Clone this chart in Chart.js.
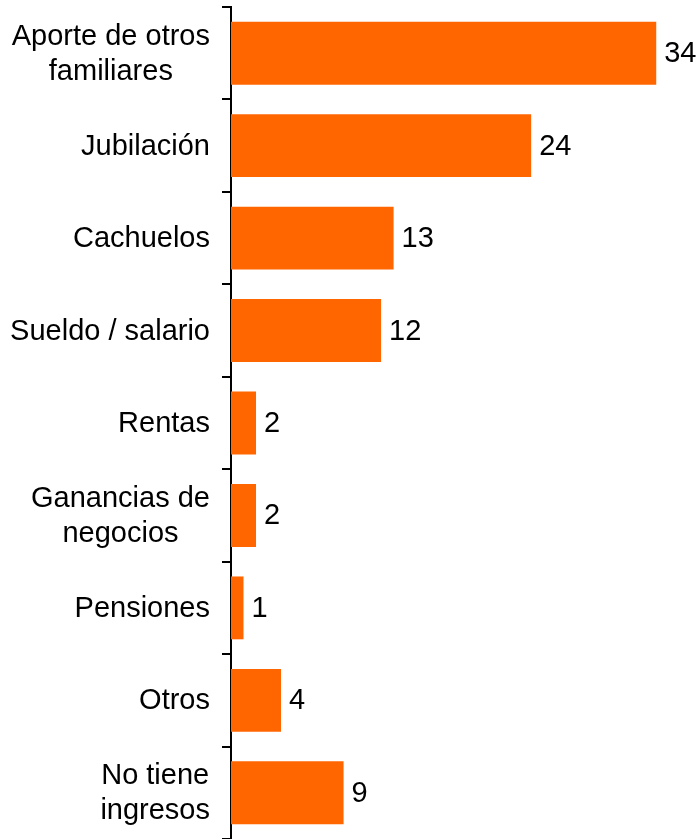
<!DOCTYPE html>
<html>
<head>
<meta charset="utf-8">
<script src="https://cdn.jsdelivr.net/npm/chart.js@4"></script>
<style>
  html, body { margin: 0; padding: 0; background: #fff; }
  #wrap { width: 700px; height: 839px; position: relative; }
</style>
</head>
<body>
<div id="wrap"><canvas id="ingresosChart"></canvas></div>
<script>
// income sources, one entry per bar (multi-line labels as arrays)
const categories = [
    ["Aporte de otros", "familiares"],
    ["Jubilación"],
    ["Cachuelos"],
    ["Sueldo / salario"],
    ["Rentas"],
    ["Ganancias de", "negocios"],
    ["Pensiones"],
    ["Otros"],
    ["No tiene", "ingresos"]
];
const values = [34, 24, 13, 12, 2, 2, 1, 4, 9];

const barColor = "#FF6600";
const fontFamily = "'Liberation Sans', Arial, sans-serif";
const fontSize = 29;
const lineGap = 35;

// category names: block right-aligned next to the axis, lines centred within the block
const categoryLabels = {
    id: "categoryLabels",
    afterDraw(chart) {
        const ctx = chart.ctx;
        const yScale = chart.scales.y;
        const rightEdge = chart.chartArea.left - 21;
        ctx.save();
        ctx.font = fontSize + "px " + fontFamily;
        ctx.fillStyle = "#000";
        ctx.textAlign = "center";
        ctx.textBaseline = "middle";
        categories.forEach((lines, i) => {
            const blockW = Math.max(...lines.map(l => ctx.measureText(l).width));
            const cx = rightEdge - blockW / 2;
            const cy = yScale.getPixelForValue(i) + 1;
            const y0 = cy - (lines.length - 1) * lineGap / 2;
            lines.forEach((line, k) => ctx.fillText(line, cx, y0 + k * lineGap));
        });
        ctx.restore();
    }
};

// writes the value just right of each bar end
const valueLabels = {
    id: "valueLabels",
    afterDatasetsDraw(chart) {
        const ctx = chart.ctx;
        const meta = chart.getDatasetMeta(0);
        ctx.save();
        ctx.font = fontSize + "px " + fontFamily;
        ctx.fillStyle = "#000";
        ctx.textAlign = "left";
        ctx.textBaseline = "middle";
        meta.data.forEach((bar, i) => {
            ctx.fillText(String(values[i]), bar.x + 8, bar.y + 1);
        });
        ctx.restore();
    }
};

const ctx = document.getElementById("ingresosChart").getContext("2d");
new Chart(ctx, {
    type: "bar",
    data: {
        labels: categories.map(c => c.join(" ")),
        datasets: [{
            data: values,
            backgroundColor: barColor,
            borderWidth: 0,
            categoryPercentage: 1,
            barPercentage: 0.68
        }]
    },
    options: {
        indexAxis: "y",
        responsive: true,
        maintainAspectRatio: false,
        animation: false,
        layout: { padding: { top: 7, right: 0, bottom: 0, left: 0 } },
        plugins: {
            legend: { display: false },
            tooltip: { enabled: false }
        },
        scales: {
            x: {
                display: false,
                min: 0,
                max: 37.5
            },
            y: {
                afterFit(scale) {
                    scale.width = 231;
                    scale.paddingTop = 0;
                    scale.paddingBottom = 0;
                },
                grid: {
                    display: true,
                    drawOnChartArea: false,
                    drawTicks: true,
                    tickLength: 9,
                    color: "#000",
                    lineWidth: 2
                },
                border: { display: true, color: "#000", width: 2 },
                ticks: { display: false }
            }
        }
    },
    plugins: [valueLabels, categoryLabels]
});
</script>
</body>
</html>
